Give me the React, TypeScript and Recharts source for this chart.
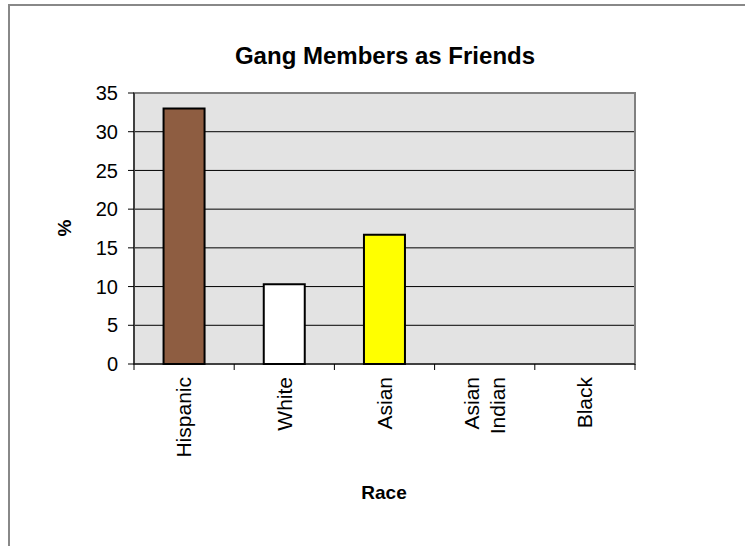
import React from "react";
import {
  BarChart,
  Bar,
  XAxis,
  YAxis,
  CartesianGrid,
  Cell,
  ReferenceArea,
} from "recharts";

const races = ["Hispanic", "White", "Asian", "Asian Indian", "Black"];
const percents = [33, 10.3, 16.7, 0, 0];
const barColors = ["#8E5D41", "#FFFFFF", "#FFFF00", "#C0C0C0", "#C0C0C0"];
const yTicks = [0, 5, 10, 15, 20, 25, 30, 35];

const data = races.map((race, i) => ({ race, pct: percents[i] }));

const font = "Arial, 'Liberation Sans', sans-serif";

function RaceTick(props: any) {
  const { x, y, payload, index, visibleTicksCount, width } = props;
  const half = payload.offset ? payload.offset : width / visibleTicksCount / 2;
  const lines = String(payload.value).split(" ");
  const ty = y + 13;
  return (
    <g>
      <line x1={x - half} x2={x - half} y1={y} y2={y + 6} stroke="#000" />
      {index === visibleTicksCount - 1 && (
        <line x1={x + half} x2={x + half} y1={y} y2={y + 6} stroke="#000" />
      )}
      <text
        transform={`rotate(-90, ${x}, ${ty})`}
        x={x}
        y={ty}
        textAnchor="end"
        fontSize={21}
        fontFamily={font}
        fill="#000"
      >
        {lines.map((l, i) => (
          <tspan
            key={i}
            x={x}
            dy={i === 0 ? `${0.35 - (lines.length - 1) * 0.6}em` : "1.2em"}
          >
            {l}
          </tspan>
        ))}
      </text>
    </g>
  );
}

export default function App() {
  return (
    <div
      style={{
        position: "absolute",
        left: 0,
        top: 0,
        width: 745,
        height: 546,
        overflow: "hidden",
        background: "#fff",
        fontFamily: font,
      }}
    >
      <div
        style={{
          position: "absolute",
          left: 8,
          top: 4,
          width: 800,
          height: 600,
          border: "2px solid #888",
        }}
      />
      <div
        style={{
          position: "absolute",
          left: 0,
          width: 770,
          top: 42,
          textAlign: "center",
          fontSize: 24,
          fontWeight: "bold",
        }}
      >
        Gang Members as Friends
      </div>
      <div
        style={{
          position: "absolute",
          left: 45,
          top: 217,
          width: 40,
          textAlign: "center",
          fontSize: 19,
          fontWeight: "bold",
          transform: "rotate(-90deg)",
        }}
      >
        %
      </div>
      <div
        style={{
          position: "absolute",
          left: 284,
          width: 200,
          top: 482,
          textAlign: "center",
          fontSize: 19,
          fontWeight: "bold",
        }}
      >
        Race
      </div>
      <div style={{ position: "absolute", left: 0, top: 0 }}>
        <BarChart
          width={745}
          height={546}
          data={data}
          margin={{ top: 93, right: 110, left: 0, bottom: 82 }}
          barCategoryGap="29.5%"
        >
          <CartesianGrid vertical={false} stroke="#000" fill="#E3E3E3" />
          <ReferenceArea
            y1={0}
            y2={35}
            fill="none"
            stroke="#808080"
            strokeWidth={2}
          />
          <XAxis
            dataKey="race"
            height={100}
            interval={0}
            tickLine={false}
            tickSize={0}
            tickMargin={0}
            stroke="#000"
            tick={<RaceTick />}
          />
          <YAxis
            width={134}
            domain={[0, 35]}
            ticks={yTicks}
            tickSize={6}
            tickMargin={10}
            stroke="#000"
            tick={{ fill: "#000", fontSize: 20, fontFamily: font }}
          />
          <Bar
            dataKey="pct"
            stroke="#000"
            strokeWidth={2}
            isAnimationActive={false}
          >
            {data.map((d, i) => (
              <Cell key={d.race} fill={barColors[i]} />
            ))}
          </Bar>
        </BarChart>
      </div>
    </div>
  );
}
